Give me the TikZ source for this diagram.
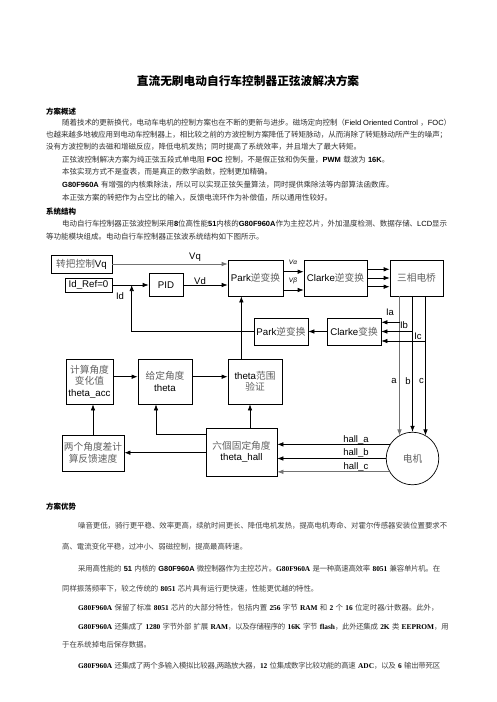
\documentclass[tikz,border=0pt]{standalone}
\usepackage{fontspec}
\setmainfont{Liberation Serif}
\newfontfamily\arial{Liberation Sans}
\newfontfamily\cjkfont{Noto Sans CJK SC}
\usetikzlibrary{arrows.meta,calc}

\def\latinfam{\arial}
\def\cjkcol{black!80}
\def\latcol{black}
\def\cjkon{\cjkfont\color{\cjkcol}}
\def\cjkoff{\latinfam\color{\latcol}}
\XeTeXinterchartokenstate=1
\newXeTeXintercharclass\CJKcls
\newcount\cjkcnt
\cjkcnt="3000 \loop \XeTeXcharclass\cjkcnt=\CJKcls \advance\cjkcnt 1 \ifnum\cjkcnt<"3040 \repeat
\cjkcnt="4E00 \loop \XeTeXcharclass\cjkcnt=\CJKcls \advance\cjkcnt 1 \ifnum\cjkcnt<"A000 \repeat
\cjkcnt="FF00 \loop \XeTeXcharclass\cjkcnt=\CJKcls \advance\cjkcnt 1 \ifnum\cjkcnt<"FFF0 \repeat
\XeTeXinterchartoks 0 \CJKcls = {\cjkon\hskip0pt plus .5pt\relax}
\XeTeXinterchartoks 4095 \CJKcls = {\cjkon}
\XeTeXinterchartoks \CJKcls 0 = {\hskip0pt plus .5pt\relax\cjkoff}
\XeTeXinterchartoks \CJKcls 4095 = {\cjkoff}
\XeTeXinterchartoks 4095 0 = {\cjkoff}
\XeTeXinterchartoks \CJKcls \CJKcls = {\hskip0pt plus .5pt minus .3pt\relax}

\newcommand\AB[1]{{\def\latinfam{\arial}\bfseries #1}}
\newcommand\SB[1]{{\def\latinfam{\rmfamily}\bfseries #1}}
\newcommand\sk{\hskip 2.3pt plus 1pt\relax}

\tikzset{
  body/.style={anchor=west, inner sep=0pt, font=\fontsize{7.5}{9}\selectfont},
  lowbody/.style={anchor=west, inner sep=0pt, font=\def\cjkcol{black!75}\def\latinfam{\rmfamily}\fontsize{7.4}{9}\selectfont},
  head/.style={anchor=west, inner sep=0pt, font=\def\cjkcol{black}\bfseries\fontsize{7.5}{9}\selectfont},
  box/.style={draw, line width=0.7pt, inner sep=1pt, align=center,
    font=\def\cjkcol{black!62}\fontsize{9.7}{11.5}\selectfont},
  lbl/.style={inner sep=0pt, font=\arial\fontsize{9.5}{11}\selectfont},
  arr/.style={-{Latex[length=6pt,width=4.5pt]}, line width=0.7pt},
}

\begin{document}
\begin{tikzpicture}[x=1pt, y=-1pt]
\fill[white] (0,0) rectangle (496,702);
\useasboundingbox (0,0) rectangle (496,702);

% ---------- title and top text ----------
\node[inner sep=0pt, font=\def\cjkcol{black}\bfseries\fontsize{11.7}{14}\selectfont] (title) at (248,81) {直流无刷电动自行车控制器正弦波解决方案};

\node[head] (h1) at (46,112) {方案概述};
\node[body] (l1) at (62,123) {\makebox[389pt][s]{随着技术的更新换代，电动车电机的控制方案也在不断的更新与进步。磁场定向控制（Field Oriented Control\sk{}，FOC）}};
\node[body] (l2) at (46,135) {\makebox[401pt][s]{也越来越多地被应用到电动车控制器上，相比较之前的方波控制方案降低了转矩脉动，从而消除了转矩脉动所产生的噪声；}};
\node[body] (l3) at (46,147) {没有方波控制的去磁和增磁反应，降低电机发热；同时提高了系统效率，并且增大了最大转矩。};
\node[body] (l4) at (62,160) {正弦波控制解决方案为纯正弦五段式单电阻\sk{}\AB{FOC}\sk{}控制，不是假正弦和伪矢量，\AB{PWM}\sk{}载波为\sk{}\AB{16K}。};
\node[body] (l5) at (62,172) {本弦实现方式不是查表，而是真正的数学函数，控制更加精确。};
\node[body] (l6) at (62,185) {\AB{G80F960A}\sk{}有增强的内核乘除法，所以可以实现正弦矢量算法，同时提供乘除法等内部算法函数库。};
\node[body] (l7) at (62,198) {本正弦方案的转把作为占空比的输入，反馈电流环作为补偿值，所以通用性较好。};
\node[head] (h2) at (46,212) {系统结构};
\node[body] (l8) at (62,224) {\makebox[385pt][s]{电动自行车控制器正弦波控制采用\AB{8}位高性能\AB{51}内核的\AB{G80F960A}作为主控芯片，外加温度检测、数据存储、LCD显示}};
\node[body] (l9) at (46,237) {等功能模块组成。电动自行车控制器正弦波系统结构如下图所示。};

% ---------- diagram boxes ----------
\node[box, minimum width=61pt, minimum height=18pt] (vq) at (81.5,264) {转把控制Vq};
\node[box, minimum width=47pt, minimum height=14pt] (idref) at (88.5,285) {Id\_Ref=0};
\node[box, minimum width=34pt, minimum height=23pt] (pid) at (166,285) {PID};
\node[box, minimum width=55pt, minimum height=36pt] (park1) at (255.5,278) {Park逆变换};
\node[box, minimum width=63pt, minimum height=36pt] (clarkeinv) at (335.5,278) {Clarke逆变换};
\node[box, minimum width=53pt, minimum height=36pt] (bridge) at (416.5,278) {三相电桥};
\node[box, minimum width=54pt, minimum height=27pt] (park2) at (281,331.5) {Park逆变换};
\node[box, minimum width=54pt, minimum height=27pt] (clarke) at (354,331.5) {Clarke变换};
\node[box, minimum width=47pt, minimum height=45pt] (acc) at (89.5,381.5) {计算角度\\变化值\\theta\_acc};
\node[box, minimum width=54pt, minimum height=45pt] (theta) at (165,381.5) {给定角度\\theta};
\node[box, minimum width=54pt, minimum height=45pt] (range) at (255,381.5) {theta范围\\验证};
\node[box, minimum width=62pt, minimum height=36pt] (diff) at (93,453) {两个角度差计\\算反馈速度};
\node[box, minimum width=71pt, minimum height=48pt] (hall) at (241.5,452) {六個固定角度\\theta\_hall};
\node[box, circle, minimum size=52.6pt, inner sep=0pt] (motor) at (412.5,458.5) {电机};

% ---------- connectors ----------
\draw[arr, black!55] (vq.east) -- (vq.east -| park1.west);
\draw[arr] (idref.east) -- (pid.west);
\draw[arr] (pid.east) -- (pid.east -| park1.west);

\coordinate (idj) at (131.7,285);
\draw[arr] (park2.west) -| (idj);

\coordinate (rp) at ($(range.north west)+(13.7,0)$);
\draw[arr] (rp) -- (rp |- park1.south);

\coordinate (va) at ($(park1.east)+(0,-6.3)$);
\coordinate (vb) at ($(park1.east)+(0,12)$);
\draw[arr] (va) -- (va -| clarkeinv.west);
\draw[arr] (vb) -- (vb -| clarkeinv.west);

\coordinate (c1) at ($(clarkeinv.east)+(0,-8.7)$);
\coordinate (c3) at ($(clarkeinv.east)+(0,8.7)$);
\draw[arr] (c1) -- (c1 -| bridge.west);
\draw[arr] (clarkeinv.east) -- (bridge.west);
\draw[arr] (c3) -- (c3 -| bridge.west);

\coordinate (ja) at ($(bridge.south)+(-17,0)$);
\coordinate (jb) at ($(bridge.south)+(-4,0)$);
\coordinate (jc) at ($(bridge.south)+(9,0)$);
\draw[arr, black!55] (ja) -- (ja |- motor.120);
\draw[arr] (jb) -- (jb |- motor.north);
\draw[arr] (jc) -- (jc |- motor.60);

\coordinate (ia) at ($(clarke.east)+(0,-9.2)$);
\coordinate (ic) at ($(clarke.east)+(0,9.5)$);
\draw[arr] (ia -| ja) -- (ia);
\draw[arr] (clarke.east -| jb) -- (clarke.east);
\draw[arr] (ic -| jc) -- (ic);

\draw[arr] (clarke.west) -- (park2.east);

\coordinate (at) at ($(acc.east)+(0,-4.8)$);
\draw[arr] (at) -- (at -| theta.west);
\coordinate (tr) at ($(theta.east)+(0,-4.8)$);
\draw[arr] (tr) -- (tr -| range.west);

\draw[arr] (diff.north) -- (diff.north |- acc.south);
\coordinate (ht) at ($(hall.north west)+(0,7)$);
\coordinate (tt) at ($(theta.south)+(-9,0)$);
\draw[arr] (ht) -| (tt);
\coordinate (hd) at ($(hall.west)+(0,0.7)$);
\draw[arr] (hd) -- (hd -| diff.east);
\coordinate (hr) at ($(hall.north)+(8.5,0)$);
\draw[arr] (hr) -- (hr |- range.south);

\draw[arr] (motor.148) -- (motor.148 -| hall.east);
\draw[arr] (motor.west) -- (motor.west -| hall.east);
\draw[arr, black!55] (motor.210) -- (motor.210 -| hall.east);

% ---------- labels ----------
\node[lbl] (lvq) at (195,257) {Vq};
\node[lbl] (lvd) at (200,281) {Vd};
\node[lbl] (lid) at (120,296) {Id};
\node[lbl, font=\arial\itshape\fontsize{6.5}{7}\selectfont] (lva) at (293,262.5) {Vα};
\node[lbl, font=\arial\itshape\fontsize{6.5}{7}\selectfont] (lvb) at (293,281) {Vβ};
\node[lbl] (lia) at (390,312) {Ia};
\node[lbl] (lib) at (404,325) {Ib};
\node[lbl] (lic) at (418,336) {Ic};
\node[lbl] (la) at (394,381) {a};
\node[lbl] (lb) at (408,381) {b};
\node[lbl] (lc) at (421.5,381) {c};
\node[lbl] (lha) at (356,439.5) {hall\_a};
\node[lbl] (lhb) at (356,453) {hall\_b};
\node[lbl] (lhc) at (356,466.5) {hall\_c};

% ---------- lower text ----------
\node[head] (h3) at (46,507) {方案优势};
\node[lowbody] (m1) at (78,526) {\makebox[369pt][s]{噪音更低，骑行更平稳、效率更高，续航时间更长、降低电机发热，提高电机寿命、对霍尔传感器安装位置要求不}};
\node[lowbody] (m2) at (62,547) {高、電流变化平稳，过冲小、弱磁控制，提高最高转速。};
\node[lowbody] (m3) at (78,569) {\makebox[362pt][s]{采用高性能的\sk{}\AB{51}\sk{}内核的\sk{}\AB{G80F960A}\sk{}微控制器作为主控芯片。\SB{G80F960A}\sk{}是一种高速高效率\sk{}\SB{8051}\sk{}兼容单片机。在}};
\node[lowbody] (m4) at (62,589) {同样振荡频率下，较之传统的\sk{}\SB{8051}\sk{}芯片具有运行更快速，性能更优越的特性。};
\node[lowbody] (m5) at (78,608) {\SB{G80F960A}\sk{}保留了标准\sk{}\SB{8051}\sk{}芯片的大部分特性，包括内置\sk{}\SB{256}\sk{}字节\sk{}\SB{RAM}\sk{}和\sk{}\SB{2}\sk{}个\sk{}\SB{16}\sk{}位定时器/计数器。此外，};
\node[lowbody] (m6) at (78,627) {\makebox[368pt][s]{\SB{G80F960A}\sk{}还集成了\sk{}\SB{1280}\sk{}字节外部\sk{}扩展\sk{}\SB{RAM}，以及存储程序的\sk{}\SB{16K}\sk{}字节\sk{}\SB{flash}，此外还集成\sk{}\SB{2K}\sk{}类\sk{}\SB{EEPROM}，用}};
\node[lowbody] (m7) at (62,645) {于在系统掉电后保存数据。};
\node[lowbody] (m8) at (78,666) {\makebox[362pt][s]{\SB{G80F960A}\sk{}还集成了两个多输入模拟比较器,两路放大器，\SB{12}\sk{}位集成数字比较功能的高速\sk{}\SB{ADC}，以及\sk{}\SB{6}\sk{}输出带死区}};
\end{tikzpicture}
\end{document}
